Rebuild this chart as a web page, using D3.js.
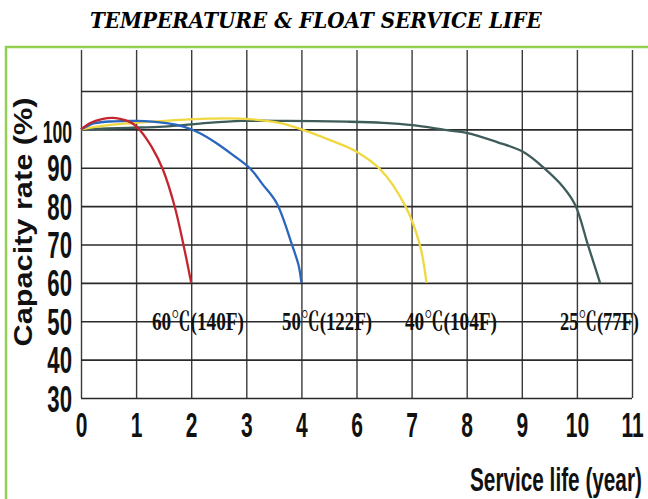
<!DOCTYPE html>
<html>
<head>
<meta charset="utf-8">
<script src="https://cdn.jsdelivr.net/npm/d3@7"></script>
<style>
  body { margin: 0; background: #fff; }
  svg { display: block; }
</style>
</head>
<body>
<svg id="chart" width="648" height="499"></svg>
<script>
// ---------------- DATA ----------------
// x values are positions on the printed year grid (gridline index 0..10)
const xTickLabels = ["0", "1", "2", "3", "4", "6", "7", "8", "9", "10", "11"];
const yTickValues = [30, 40, 50, 60, 70, 80, 90, 100];
const yTickLabels = ["30", "40", "50", "60", "70", "80", "90", "100"];
const yExtraGrid = [110];

const seriesNames = ["60℃(140F)", "50℃(122F)", "40℃(104F)", "25℃(77F)"];

const years60 = [0, 0.16, 0.38, 0.59, 0.8, 0.95, 1.07, 1.28, 1.49, 1.70, 1.86, 2.0];
const cap60   = [100, 101.6, 102.7, 103.0, 102.4, 101.4, 99.8, 95.5, 89.4, 79.9, 69.9, 60];

const years50 = [0, 0.25, 0.6, 1.0, 1.55, 1.86, 2.16, 2.46, 2.76, 3.07, 3.3, 3.55, 3.83, 3.95, 4.0];
const cap50   = [100, 101.6, 102.1, 102.2, 101.6, 100.7, 99.0, 96.4, 93.3, 89.8, 85.6, 80.8, 69.9, 64.5, 60];

const years40 = [0, 0.5, 1.1, 1.7, 2.3, 2.9, 3.6, 4.0, 4.52, 5.0, 5.43, 5.88, 6.15, 6.27];
const cap40   = [100, 101.1, 101.8, 102.4, 102.8, 102.8, 101.7, 100.0, 97.2, 94.2, 89.6, 80.2, 69.9, 60];

const years25 = [0, 0.85, 1.5, 2.3, 2.92, 3.74, 4.82, 5.48, 6.02, 6.64, 7.0, 7.55, 8.03, 8.42, 8.75, 8.97, 9.2, 9.42];
const cap25   = [100, 100.4, 100.7, 101.7, 102.2, 102.2, 102.0, 101.7, 101.1, 99.8, 99.1, 96.7, 94.1, 89.7, 85.0, 80.3, 69.9, 60];

// ---------------- DRAWING ----------------
const svg = d3.select("#chart");
const x = d3.scaleLinear().domain([0, 10]).range([81, 632]);
const y = d3.scaleLinear().domain([30, 110]).range([398, 91]);
const yTopValue = 120.7;
const plotTop = y(yTopValue);

// horizontally squeeze a text so that its width equals w, left edge at x0
function fitText(sel, x0, baseY, w) {
  const nat = sel.node().getComputedTextLength();
  const s = w / nat;
  sel.attr("x", 0).attr("y", 0)
     .attr("transform", `translate(${x0},${baseY}) scale(${s},1)`);
}

// green frame
svg.append("rect")
  .attr("x", 6).attr("y", 47).attr("width", 700).attr("height", 500)
  .attr("fill", "none").attr("stroke", "#92d050").attr("stroke-width", 2.5);

// title
const title = svg.append("text")
  .attr("font-family", "'DejaVu Serif', 'Liberation Serif', serif")
  .attr("font-weight", "bold").attr("font-style", "italic")
  .attr("font-size", 22).attr("fill", "#000")
  .text("TEMPERATURE & FLOAT SERVICE LIFE");
fitText(title, 90, 28, 452);

// vertical gridlines
const vGrid = svg.append("g").attr("transform", `translate(0,398)`)
  .call(d3.axisBottom(x).tickValues(d3.range(11)).tickSize(-(398 - plotTop)).tickFormat(""));
vGrid.select(".domain").remove();
vGrid.selectAll("line").attr("stroke", "#3a3a3a").attr("stroke-width", 1.4);

// horizontal gridlines
const hGrid = svg.append("g").attr("transform", `translate(81,0)`)
  .call(d3.axisLeft(y).tickValues(yTickValues.concat(yExtraGrid)).tickSize(-(x(10) - x(0))).tickFormat(""));
hGrid.select(".domain").remove();
hGrid.selectAll("line").attr("stroke", "#2a2a2a").attr("stroke-width", 1.6);

// curves
const line = d3.line().x(d => x(d[0])).y(d => y(d[1])).curve(d3.curveCatmullRom.alpha(0.5));
const curves = [
  { xs: years25, ys: cap25, color: "#3d5c5a" },
  { xs: years40, ys: cap40, color: "#f0d840" },
  { xs: years50, ys: cap50, color: "#2a66bd" },
  { xs: years60, ys: cap60, color: "#c4262e" }
];
curves.forEach(c => {
  svg.append("path")
    .datum(c.xs.map((v, i) => [v, c.ys[i]]))
    .attr("fill", "none").attr("stroke", c.color).attr("stroke-width", 2.3)
    .attr("stroke-linejoin", "round")
    .attr("d", line);
});

// curve labels (layout: left edge and width in px)
const labelLayout = [
  { left: 152, w: 92 },
  { left: 282, w: 90 },
  { left: 405, w: 92 },
  { left: 560, w: 79 }
];
seriesNames.forEach((name, i) => {
  const L = labelLayout[i];
  const t = svg.append("text")
    .attr("font-family", "'Liberation Serif', 'Noto Serif CJK SC', 'DejaVu Serif', serif")
    .attr("font-weight", "bold").attr("font-size", 25).attr("fill", "#111")
    .text(name);
  fitText(t, L.left, 330, L.w);
});

// x axis labels
const xAxis = svg.append("g").attr("transform", `translate(0,398)`)
  .call(d3.axisBottom(x).tickValues(d3.range(11)).tickSize(0).tickFormat((d, i) => xTickLabels[i]));
xAxis.select(".domain").remove();
xAxis.selectAll("text")
  .attr("y", null).attr("dy", null)
  .attr("transform", "translate(0,39) scale(0.6,1)")
  .attr("font-family", "'Liberation Sans', Arial, sans-serif")
  .attr("font-weight", "bold").attr("font-size", 35).attr("fill", "#111");

// y axis labels
const yAxis = svg.append("g").attr("transform", `translate(81,0)`)
  .call(d3.axisLeft(y).tickValues(yTickValues).tickSize(0).tickFormat((d, i) => yTickLabels[i]));
yAxis.select(".domain").remove();
yAxis.selectAll("text")
  .attr("x", null).attr("dy", null)
  .attr("text-anchor", "end")
  .attr("font-family", "'Liberation Sans', Arial, sans-serif")
  .attr("font-weight", "bold").attr("fill", "#111")
  .each(function (d, i) {
    const big = yTickLabels[i].length > 2;
    d3.select(this)
      .attr("font-size", big ? 32 : 37)
      .attr("transform", big ? "translate(-9,13) scale(0.55,1)" : "translate(-9,13) scale(0.6,1)");
  });

// y axis title
const yTitle = svg.append("text")
  .attr("font-family", "'Liberation Sans', Arial, sans-serif")
  .attr("font-weight", "bold").attr("font-size", 25).attr("fill", "#111")
  .text("Capacity rate (%)");
{
  const nat = yTitle.node().getComputedTextLength();
  const s = 249 / nat;
  yTitle.attr("text-anchor", "middle")
    .attr("transform", `translate(31.5,222) rotate(-90) scale(${s},1)`);
}

// x axis title
const xTitle = svg.append("text")
  .attr("font-family", "'Liberation Sans', Arial, sans-serif")
  .attr("font-weight", "bold").attr("font-size", 34).attr("fill", "#111")
  .text("Service life (year)");
fitText(xTitle, 470, 491, 172);
</script>
</body>
</html>
